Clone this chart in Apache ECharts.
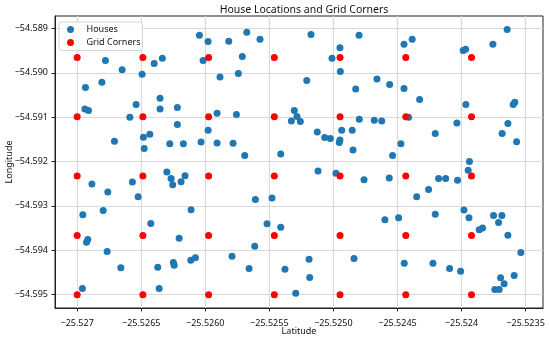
<!DOCTYPE html>
<html>
<head>
<meta charset="utf-8">
<script src="https://cdn.jsdelivr.net/npm/echarts@6/dist/echarts.min.js"></script>
<style>
html,body{margin:0;padding:0;background:#fff;}
#chart{width:550px;height:339px;}
</style>
</head>
<body>
<div id="chart"></div>
<script>
// ---- data ----
const houseLatitude = [
-25.526046, -25.525978, -25.526779, -25.526399, -25.526335, -25.526017, -25.526649, -25.526493, -25.525885, -25.526807,
-25.526935, -25.526353, -25.526540, -25.526940, -25.526912, -25.526353, -25.526218, -25.526589, -25.525908, -25.526218,
-25.525978, -25.526433, -25.526483, -25.526709, -25.526477, -25.526277, -25.526171, -25.526033, -25.525908,
-25.525676, -25.525817, -25.525573, -25.525175, -25.524800, -25.524949, -25.525711, -25.525011, -25.524946, -25.525742,
-25.525208, -25.524660, -25.524826, -25.525305, -25.525284, -25.525328, -25.525258, -25.525757, -25.524798, -25.524681,
-25.524623, -25.525126, -25.524935, -25.524853, -25.525068, -25.525024, -25.524949, -25.524954, -25.525783, -25.524847,
-25.525692, -25.525411,
-25.523644, -25.524385, -25.524449, -25.523755, -25.523987, -25.523968, -25.524561, -25.524449, -25.524327, -25.523966,
-25.523597, -25.523584, -25.524413, -25.524036, -25.523638, -25.524205, -25.523683, -25.523570, -25.524473, -25.524538, -25.523938,
-25.526300, -25.526267, -25.526158, -25.526189, -25.526254, -25.526885, -25.526569, -25.526761, -25.526524, -25.526797,
-25.526111, -25.526956, -25.526425, -25.526917, -25.526927, -25.526204, -25.526766, -25.526659, -25.526371, -25.526249,
-25.526243, -25.526113, -25.526077, -25.526959, -25.526360,
-25.525120, -25.524980, -25.524761, -25.525609, -25.525479, -25.524598, -25.525518, -25.525411, -25.525614, -25.525791,
-25.525190, -25.524839, -25.525658, -25.525378, -25.525185, -25.525294,
-25.524564, -25.523948, -25.524179, -25.524124, -25.524031, -25.524257, -25.524350,
-25.524491, -25.524205, -25.523981, -25.523942, -25.523750, -25.523685, -25.523711, -25.523862, -25.523836, -25.523638,
-25.523537, -25.524447, -25.524223, -25.524093, -25.524007, -25.523589, -25.523695, -25.523667, -25.523740, -25.523706
];
const houseLongitude = [
-54.589151, -54.589293, -54.589722, -54.589790, -54.589670, -54.589722, -54.589934, -54.590031, -54.590092, -54.590212,
-54.590332, -54.590573, -54.590715, -54.590815, -54.590851, -54.590815, -54.590783, -54.591002, -54.590912, -54.591167,
-54.591295, -54.591386, -54.591453, -54.591544, -54.591708, -54.591596, -54.591596, -54.591559, -54.591582,
-54.589084, -54.589287, -54.589242, -54.589135, -54.589151, -54.589438, -54.589632, -54.589670, -54.589971, -54.590016,
-54.590174, -54.590138, -54.590363, -54.590851, -54.590986, -54.591085, -54.591099, -54.590941, -54.591047, -54.591070,
-54.591085, -54.591334, -54.591295, -54.591295, -54.591460, -54.591483, -54.591514, -54.591573, -54.591589, -54.591740,
-54.591866, -54.591830,
-54.589023, -54.589242, -54.589354, -54.589354, -54.589497, -54.589467, -54.590264, -54.590354, -54.590602, -54.590715,
-54.590715, -54.590663, -54.591002, -54.591131, -54.591144, -54.591370, -54.591370, -54.591551, -54.591596, -54.591866, -54.592000,
-54.592237, -54.592379, -54.592318, -54.592453, -54.592521, -54.592507, -54.592462, -54.592688, -54.592792, -54.593101,
-54.593085, -54.593198, -54.593394, -54.593755, -54.593817, -54.593726, -54.594026, -54.594394, -54.594381, -54.594275,
-54.594336, -54.594223, -54.594169, -54.594861, -54.594861,
-54.592214, -54.592266, -54.592408, -54.592853, -54.592823, -54.593309, -54.593401, -54.593478, -54.593907, -54.594132,
-54.594200, -54.594184, -54.594410, -54.594426, -54.594613, -54.594967,
-54.592372, -54.592198, -54.592379, -54.592379, -54.592424, -54.592627, -54.592792,
-54.593266, -54.593185, -54.593094, -54.593266, -54.593214, -54.593214, -54.593372, -54.593537, -54.593500, -54.593658,
-54.594049, -54.594290, -54.594290, -54.594410, -54.594471, -54.594568, -54.594620, -54.594755, -54.594884, -54.594884
];
// grid corner coordinates (columns x rows)
const cornerLatitudes = [-25.527000, -25.526487, -25.525974, -25.525461, -25.524948, -25.524435, -25.523922];
const cornerLongitudes = [-54.595000, -54.593664, -54.592328, -54.590992, -54.589656];

const xTickValues = [-25.527, -25.5265, -25.526, -25.5255, -25.525, -25.5245, -25.524, -25.5235];
const xTickLabels = ['\u221225.527', '\u221225.5265', '\u221225.5260', '\u221225.5255', '\u221225.5250', '\u221225.5245', '\u221225.524', '\u221225.5235'];
const yTickValues = [-54.595, -54.594, -54.593, -54.592, -54.591, -54.590, -54.589];
const yTickLabels = ['\u221254.595', '\u221254.594', '\u221254.593', '\u221254.592', '\u221254.591', '\u221254.590', '\u221254.589'];

const titleText = 'House Locations and Grid Corners';
const xName = 'Latitude';
const yName = 'Longitude';
const seriesNames = ['Houses', 'Grid Corners'];

// ---- build chart ----
const housePoints = houseLatitude.map((x, i) => [x, houseLongitude[i]]);
const cornerPoints = [];
cornerLatitudes.forEach(x => cornerLongitudes.forEach(y => cornerPoints.push([x, y])));

function labelFor(values, labels) {
  return function (v) {
    let best = 0, bd = Infinity;
    values.forEach((t, i) => { const d = Math.abs(t - v); if (d < bd) { bd = d; best = i; } });
    return labels[best];
  };
}

const FONT = 'Noto Sans';
const chart = echarts.init(document.getElementById('chart'), null, { renderer: 'canvas' });
chart.setOption({
  animation: false,
  backgroundColor: '#fff',
  title: {
    text: titleText, left: 299, top: 0, textAlign: 'center',
    textStyle: { fontFamily: FONT, fontSize: 10.5, fontWeight: 'normal', color: '#111' }
  },
  legend: {
    data: seriesNames, orient: 'vertical', left: 59, top: 22,
    icon: 'circle', itemWidth: 22, itemHeight: 7, itemGap: 3,
    padding: [2.5, 2, 3, 8],
    backgroundColor: 'rgba(255,255,255,0.85)', borderColor: '#d6d6d6', borderWidth: 1, borderRadius: 3,
    textStyle: { fontFamily: FONT, fontSize: 9, color: '#111', lineHeight: 10 }
  },
  grid: { left: 55, right: 7, top: 16, bottom: 31, show: true, borderColor: '#222', borderWidth: 1,
          containLabel: false, outerBoundsMode: 'none' },
  xAxis: {
    type: 'value', min: -25.527173, max: -25.523364, name: xName, nameLocation: 'middle', nameGap: 19,
    nameMoveOverlap: false,
    nameTextStyle: { fontFamily: FONT, fontSize: 9, color: '#111' },
    axisLine: { onZero: false, lineStyle: { color: '#222', width: 1 } },
    axisTick: { show: true, length: 3.5, customValues: xTickValues, lineStyle: { color: '#222' } },
    axisLabel: { customValues: xTickValues, formatter: labelFor(xTickValues, xTickLabels), fontFamily: FONT, fontSize: 9, color: '#111', margin: 11, hideOverlap: false },
    splitLine: { show: true, lineStyle: { color: '#dadada', width: 1.2 } }
  },
  yAxis: {
    type: 'value', min: -54.5953, max: -54.58872, name: yName, nameLocation: 'middle', nameGap: 41,
    nameMoveOverlap: false,
    nameTextStyle: { fontFamily: FONT, fontSize: 9, color: '#111' },
    axisLine: { onZero: false, lineStyle: { color: '#222', width: 1 } },
    axisTick: { show: true, length: 3.5, customValues: yTickValues, lineStyle: { color: '#222' } },
    axisLabel: { customValues: yTickValues, formatter: labelFor(yTickValues, yTickLabels), fontFamily: FONT, fontSize: 9, color: '#111', margin: 7, hideOverlap: false },
    splitLine: { show: true, lineStyle: { color: '#dadada', width: 1.2 } }
  },
  series: [
    { name: seriesNames[0], type: 'scatter', data: housePoints, symbol: 'circle', symbolSize: 7,
      itemStyle: { color: '#1f77b4', opacity: 1 }, z: 2 },
    { name: seriesNames[1], type: 'scatter', data: cornerPoints, symbol: 'circle', symbolSize: 7,
      itemStyle: { color: '#ff0000', opacity: 1 }, z: 3 }
  ]
});
</script>
</body>
</html>
